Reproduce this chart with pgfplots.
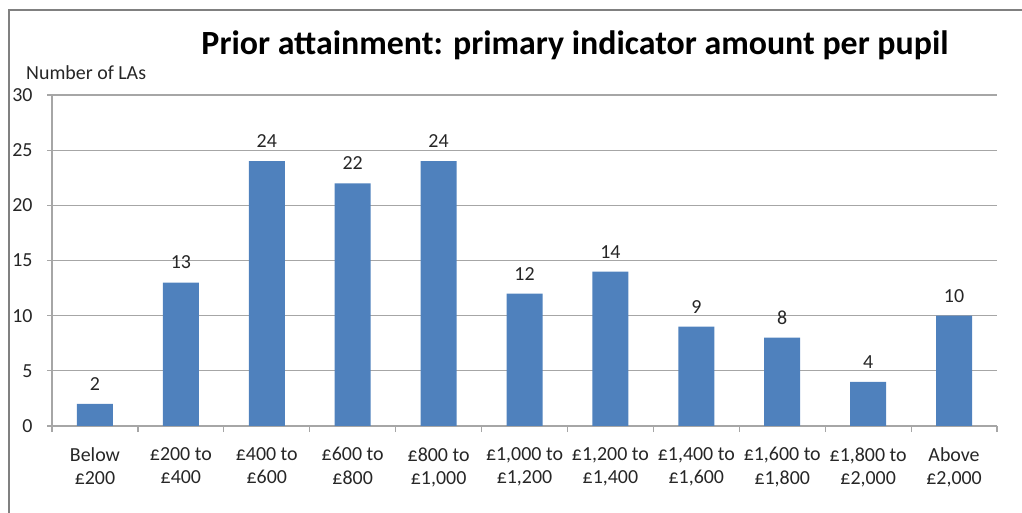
\documentclass[border=0pt]{standalone}
\usepackage{pgfplots}
\pgfplotsset{compat=1.18}
\usepackage{fontspec}
\setmainfont{Carlito}
\definecolor{barblue}{HTML}{4F81BD}
\definecolor{gridgray}{HTML}{A6A6A6}
\definecolor{txt}{HTML}{262626}
\begin{document}
\begin{tikzpicture}
\path[use as bounding box] (0bp,0bp) rectangle (1022bp,513bp);
\draw[color=gray, line width=2bp] (9bp,0bp) -- (9bp,503bp) -- (1022bp,503bp);
\node[font=\fontsize{34}{40}\selectfont\bfseries, text=black] at (575bp,468bp) {Prior attainment: primary indicator amount per pupil};
\node[font=\fontsize{20}{24}\selectfont, text=txt, anchor=west, inner sep=0pt] at (26bp,440bp) {Number of LAs};
\begin{axis}[
  at={(52bp,87bp)}, anchor=south west,
  scale only axis, width=945bp, height=331bp,
  xmin=-0.5, xmax=10.5, ymin=0, ymax=30,
  axis x line*=bottom, axis y line*=left,
  axis line style={gridgray, line width=1.2bp, -},
  ybar, bar width=36bp,
  ytick={0,5,...,30},
  ymajorgrids, grid style={gridgray, line width=1.2bp},
  xtick={0,...,10},
  minor xtick={-0.5,0.5,...,10.5},
  major x tick style={draw=none},
  minor x tick style={gridgray, line width=1.2bp},
  major y tick style={gridgray, line width=1.2bp},
  tick align=outside,
  major tick length=5bp, minor tick length=6bp,
  xticklabels={{Below\\£200},{£200 to\\£400},{£400 to\\£600},{£600 to\\£800},{£800 to\\£1,000},{£1,000 to\\£1,200},{£1,200 to\\£1,400},{£1,400 to\\£1,600},{£1,600 to\\£1,800},{£1,800 to\\£2,000},{Above\\£2,000}},
  xticklabel style={align=center, font=\fontsize{20}{23.5}\selectfont, text=txt, yshift=-13bp},
  yticklabel style={font=\fontsize{20}{24}\selectfont, text=txt, xshift=-11bp},
  /pgf/number format/assume math mode=true,
  nodes near coords,
  nodes near coords style={font=\fontsize{20}{24}\selectfont, text=txt, yshift=10bp},
]
\addplot[fill=barblue, draw=none] coordinates {(0,2) (1,13) (2,24) (3,22) (4,24) (5,12) (6,14) (7,9) (8,8) (9,4) (10,10)};
\end{axis}
\end{tikzpicture}
\end{document}
